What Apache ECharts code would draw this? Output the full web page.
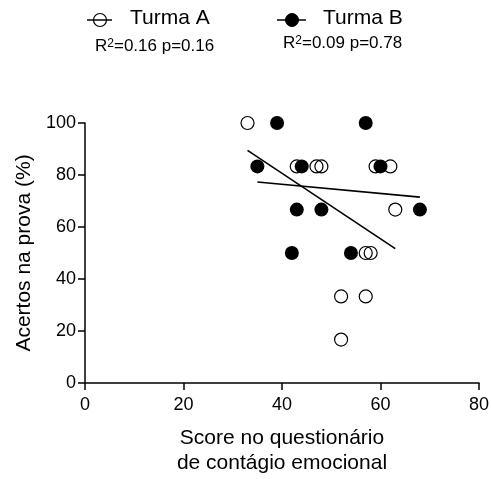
<!DOCTYPE html>
<html><head><meta charset="utf-8">
<script src="https://cdn.jsdelivr.net/npm/echarts@6/dist/echarts.min.js"></script>
<style>html,body{margin:0;padding:0;background:#fff}#c{width:491px;height:479px}</style>
</head><body><div id="c"></div>
<script>
var seriesNames = ['Turma A', 'Turma B'];
var turmaA = [[33,100],[43,83.3],[47,83.3],[48,83.3],[59,83.3],[62,83.3],[63,66.7],[57,50],[58,50],[52,33.3],[57,33.3],[52,16.7]];
var turmaB = [[39,100],[57,100],[35,83.3],[44,83.3],[60,83.3],[43,66.7],[48,66.7],[68,66.7],[42,50],[54,50]];
var fitA = [[33,89.5],[63,51.7]];
var fitB = [[35,77.3],[68,71.5]];
var statsA = 'R{sup|2}=0.16 p=0.16';
var statsB = 'R{sup|2}=0.09 p=0.78';
var xTitle = 'Score no questionário\nde contágio emocional';
var yTitle = 'Acertos na prova (%)';

var FONT = 'Liberation Sans, Arial, sans-serif';
var chart = echarts.init(document.getElementById('c'));
var axisCommon = {
  axisLine: {show: true, onZero: false, lineStyle: {color: '#000', width: 1.5}},
  axisTick: {show: true, length: 7, lineStyle: {color: '#000', width: 1.5}},
  splitLine: {show: false}
};
var supStyle = {fontSize: 12, fontFamily: FONT, fill: '#000', verticalAlign: 'top', lineHeight: 12};
chart.setOption({
  animation: false,
  backgroundColor: '#fff',
  grid: {left: 85, right: 12, top: 123, bottom: 96, containLabel: false, outerBoundsMode: 'none'},
  xAxis: Object.assign({}, axisCommon, {
    type: 'value', min: 0, max: 80, interval: 20,
    name: xTitle, nameLocation: 'middle', nameGap: 43,
    nameTextStyle: {color: '#000', fontSize: 21, fontFamily: FONT, lineHeight: 25},
    axisLabel: {color: '#000', fontSize: 18, fontFamily: FONT, margin: 13}
  }),
  yAxis: Object.assign({}, axisCommon, {
    type: 'value', min: 0, max: 100, interval: 20,
    name: yTitle, nameLocation: 'middle', nameGap: 41,
    nameTextStyle: {color: '#000', fontSize: 21, fontFamily: FONT},
    axisLabel: {color: '#000', fontSize: 18, fontFamily: FONT, margin: 9}
  }),
  series: [
    {name: seriesNames[0], type: 'scatter', data: turmaA, symbol: 'circle', symbolSize: 13, z: 3,
     itemStyle: {color: 'rgba(255,255,255,0)', borderColor: '#000', borderWidth: 1.2, opacity: 1}},
    {name: seriesNames[1], type: 'scatter', data: turmaB, symbol: 'circle', symbolSize: 14, z: 4,
     itemStyle: {color: '#000', borderWidth: 0, opacity: 1}},
    {name: 'fitA', type: 'line', data: fitA, symbol: 'none', z: 5, lineStyle: {color: '#000', width: 1.6}},
    {name: 'fitB', type: 'line', data: fitB, symbol: 'none', z: 5, lineStyle: {color: '#000', width: 1.6}}
  ],
  graphic: [
    {type: 'line', shape: {x1: 87, y1: 20, x2: 112, y2: 20}, style: {stroke: '#000', lineWidth: 1.5}},
    {type: 'circle', shape: {cx: 100, cy: 20, r: 6.5}, style: {fill: 'none', stroke: '#000', lineWidth: 1.2}},
    {type: 'text', left: 130, top: 8, style: {text: seriesNames[0], fontSize: 21, fontFamily: FONT, fill: '#000'}},
    {type: 'line', shape: {x1: 277, y1: 20, x2: 306, y2: 20}, style: {stroke: '#000', lineWidth: 1.5}},
    {type: 'circle', shape: {cx: 292, cy: 20, r: 6.5}, style: {fill: '#000', stroke: '#000', lineWidth: 1}},
    {type: 'text', left: 323, top: 8, style: {text: seriesNames[1], fontSize: 21, fontFamily: FONT, fill: '#000'}},
    {type: 'text', left: 95, top: 38, style: {text: statsA, fontSize: 17, fontFamily: FONT, fill: '#000',
      rich: {sup: supStyle}}},
    {type: 'text', left: 283, top: 35, style: {text: statsB, fontSize: 17, fontFamily: FONT, fill: '#000',
      rich: {sup: supStyle}}}
  ]
});
</script></body></html>
